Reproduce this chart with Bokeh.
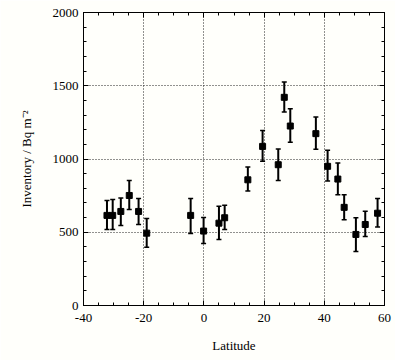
from bokeh.plotting import figure
from bokeh.models import ColumnDataSource, Whisker, LinearAxis, FixedTicker, Range1d, CustomJSTickFormatter
from bokeh.embed import file_html
from bokeh.resources import INLINE

latitude = [-32.2, -30.3, -27.6, -24.8, -21.7, -19.0, -4.4, -0.1, 5.0, 6.9,
            14.6, 19.5, 24.7, 26.7, 28.7, 37.2, 41.1, 44.5, 46.6, 50.5, 53.6, 57.7]
inventory = [615, 615, 642, 751, 642, 494, 615, 508, 562, 599,
             858, 1086, 961, 1421, 1225, 1173, 950, 863, 670, 485, 553, 630]
err_upper = [717, 724, 733, 854, 731, 594, 731, 601, 678, 685,
             945, 1195, 1068, 1525, 1343, 1287, 1059, 972, 756, 599, 644, 731]
err_lower = [519, 519, 546, 656, 553, 398, 492, 423, 451, 519,
             781, 984, 854, 1320, 1115, 1066, 849, 756, 585, 369, 471, 535]

x_ticks = [-40, -20, 0, 20, 40, 60]
y_ticks = [0, 500, 1000, 1500, 2000]

FONT = "'Liberation Serif', 'Times New Roman', serif"
BG = "#fffffb"

p = figure(width=395, height=360, output_backend="svg", toolbar_location=None,
           x_range=Range1d(-40, 60), y_range=Range1d(0, 2000),
           min_border_left=83, min_border_right=11, min_border_top=12, min_border_bottom=55,
           background_fill_color=BG, border_fill_color=BG)
p.outline_line_color = "black"
p.outline_line_width = 1

src = ColumnDataSource(dict(x=latitude, y=inventory, upper=err_upper, lower=err_lower))

w = Whisker(base="x", upper="upper", lower="lower", source=src,
            line_color="black", line_width=2)
w.upper_head.size = 5
w.lower_head.size = 5
w.upper_head.line_width = 1.5
w.lower_head.line_width = 1.5
p.add_layout(w)
p.scatter("x", "y", source=src, marker="square", size=6, fill_color="black", line_color="black")

plain = CustomJSTickFormatter(code="return String(tick)")
for ax in (p.xaxis[0], p.yaxis[0]):
    ax.formatter = CustomJSTickFormatter(code="return String(tick)")
    ax.major_tick_in = 5
    ax.major_tick_out = 0
    ax.minor_tick_in = 3
    ax.minor_tick_out = 0
    ax.axis_line_color = "black"
    ax.major_label_text_font = FONT
    ax.major_label_text_font_size = "13px"
    ax.major_label_text_color = "black"
    ax.axis_label_text_font = FONT
    ax.axis_label_text_font_size = "13px"
    ax.axis_label_text_font_style = "normal"
    ax.axis_label_text_color = "black"

p.xaxis[0].ticker = FixedTicker(ticks=x_ticks, minor_ticks=list(range(-40, 61, 5)))
p.yaxis[0].ticker = FixedTicker(ticks=y_ticks, minor_ticks=list(range(0, 2001, 100)))
p.xaxis.axis_label = "Latitude"
p.yaxis.axis_label = "Inventory / Bq m\u207B\u00B2"
p.xaxis.major_label_standoff = 8
p.xaxis.axis_label_standoff = 13
p.yaxis.major_label_standoff = 5
p.yaxis.axis_label_standoff = 16

top = LinearAxis(ticker=FixedTicker(ticks=x_ticks, minor_ticks=list(range(-40, 61, 5))),
                 formatter=CustomJSTickFormatter(code="return ''"), major_label_standoff=0,
                 major_tick_in=5, major_tick_out=0,
                 minor_tick_in=3, minor_tick_out=0, axis_line_color="black")
right = LinearAxis(ticker=FixedTicker(ticks=y_ticks, minor_ticks=list(range(0, 2001, 100))),
                   formatter=CustomJSTickFormatter(code="return ''"), major_label_standoff=0,
                   major_tick_in=5, major_tick_out=0,
                   minor_tick_in=3, minor_tick_out=0, axis_line_color="black")
p.add_layout(top, "above")
p.add_layout(right, "right")

p.xgrid.ticker = FixedTicker(ticks=x_ticks)
p.ygrid.ticker = FixedTicker(ticks=y_ticks)
p.grid.grid_line_color = "#222222"
p.grid.grid_line_dash = "1 2"
p.grid.grid_line_width = 1

open("out.html", "w").write(file_html(p, INLINE))
